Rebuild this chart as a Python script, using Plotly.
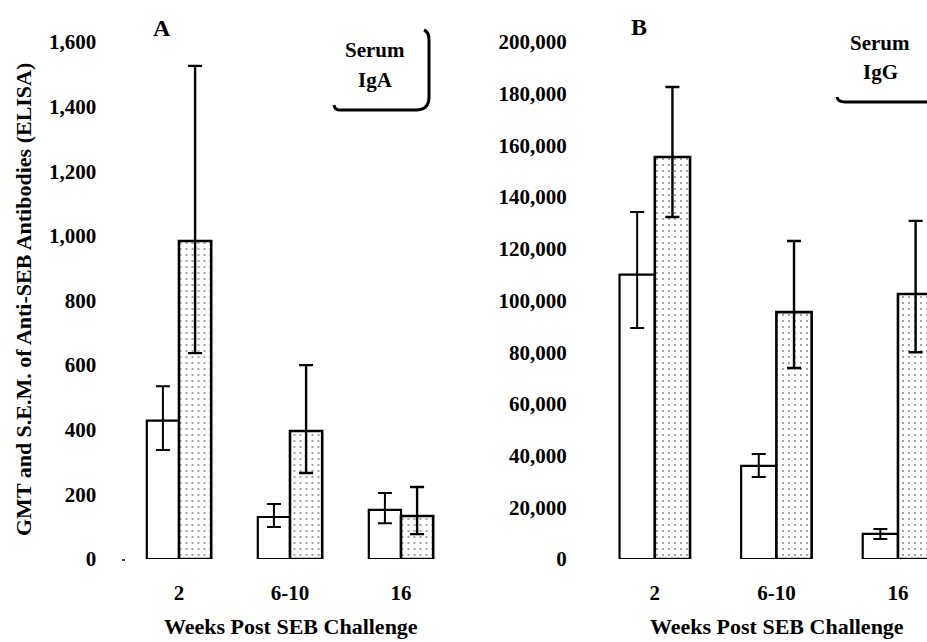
import plotly.graph_objects as go

W, H = 927, 642

weeks = ["2", "6-10", "16"]

# Panel A: Serum IgA
iga_open = [428, 130, 152]
iga_open_hi = [535, 170, 204]
iga_open_lo = [337, 99, 111]
iga_stip = [984, 396, 133]
iga_stip_hi = [1526, 600, 223]
iga_stip_lo = [637, 266, 77]

# Panel B: Serum IgG
igg_open = [110000, 36000, 9700]
igg_open_hi = [134200, 40600, 11600]
igg_open_lo = [89400, 31700, 7700]
igg_stip = [155500, 95500, 102500]
igg_stip_hi = [182600, 123000, 130800]
igg_stip_lo = [132300, 73900, 80000]

FONT = "Liberation Serif"


def px(x):
    return x / W


def py(y):
    return 1 - y / H


def err(vals, hi, lo, thick):
    return dict(type="data", symmetric=False,
                array=[h - v for h, v in zip(hi, vals)],
                arrayminus=[v - l for v, l in zip(vals, lo)],
                color="black", thickness=thick, width=7)


fig = go.Figure()


def add_pair(xa, ya, openv, ohi, olo, stv, shi, slo):
    fig.add_trace(go.Bar(
        x=weeks, y=openv, xaxis=xa, yaxis=ya,
        marker=dict(color="white", line=dict(color="black", width=2.2)),
        error_y=err(openv, ohi, olo, 2), showlegend=False))
    fig.add_trace(go.Bar(
        x=weeks, y=stv, xaxis=xa, yaxis=ya,
        marker=dict(color="white", line=dict(color="black", width=2.6),
                    pattern=dict(shape=".", fgcolor="black", bgcolor="white",
                                 size=6, solidity=0.08)),
        error_y=err(stv, shi, slo, 2.4), showlegend=False))


add_pair("x", "y", iga_open, iga_open_hi, iga_open_lo, iga_stip, iga_stip_hi, iga_stip_lo)
add_pair("x2", "y2", igg_open, igg_open_hi, igg_open_lo, igg_stip, igg_stip_hi, igg_stip_lo)

tickfont = dict(family=FONT, size=21, color="black", weight="bold")
ydom = [py(559), py(42)]

common_x = dict(showline=False, showgrid=False, zeroline=False, ticks="outside",
                ticklen=15, tickcolor="rgba(0,0,0,0)", tickfont=tickfont,
                type="category", automargin=False)
common_y = dict(showline=False, showgrid=False, zeroline=False, ticks="outside",
                ticklen=22, tickcolor="rgba(0,0,0,0)", tickfont=tickfont,
                tickformat=",d", domain=ydom, automargin=False)

fig.update_layout(
    width=W, height=H,
    margin=dict(l=0, r=0, t=0, b=0, autoexpand=False),
    paper_bgcolor="white", plot_bgcolor="white",
    barmode="group", bargap=0.42, bargroupgap=0,
    xaxis=dict(domain=[px(123.5), px(456.5)], range=[-0.5, 2.5], anchor="y", **common_x),
    yaxis=dict(range=[0, 1600], dtick=200, anchor="x", **common_y),
    xaxis2=dict(domain=[px(594), 1.0], range=[-0.5, 2 + (927 - 898) / 121.5], anchor="y2", **common_x),
    yaxis2=dict(range=[0, 200000], dtick=20000, anchor="x2", **common_y),
)

ytitlefont = dict(family=FONT, size=22, color="black", weight="bold")
xtitlefont = dict(family=FONT, size=22, color="black", weight="bold")
boxfont = dict(family=FONT, size=21, color="black", weight="bold")
letterfont = dict(family=FONT, size=24, color="black", weight="bold")
ann = [
    dict(text="GMT and S.E.M. of Anti-SEB Antibodies (ELISA)", x=px(23), y=py(300),
         textangle=-90, font=ytitlefont),
    dict(text="Weeks Post SEB Challenge", x=px(291), y=py(641), font=xtitlefont,
         yanchor="bottom"),
    dict(text="Weeks Post SEB Challenge", x=px(777), y=py(641), font=xtitlefont,
         yanchor="bottom"),
    dict(text="A", x=px(162), y=py(28), font=letterfont),
    dict(text="B", x=px(639), y=py(27), font=letterfont),
    dict(text="Serum", x=px(375), y=py(50), font=boxfont),
    dict(text="IgA", x=px(375), y=py(80), font=boxfont),
    dict(text="Serum", x=px(880), y=py(43), font=boxfont),
    dict(text="IgG", x=px(880), y=py(72), font=boxfont),
]
for a in ann:
    a.setdefault("yanchor", "middle")
    a.update(xref="paper", yref="paper", showarrow=False, xanchor="center")
fig.update_layout(annotations=ann)


def P(x, y):
    return f"{px(x)},{py(y)}"


shapes = [
    dict(type="path", xref="paper", yref="paper",
         path=(f"M {P(424, 30)} Q {P(429, 32)} {P(429, 40)} L {P(429, 97)} "
               f"Q {P(429, 110)} {P(416, 110)} L {P(339, 110)} Q {P(335, 110)} {P(334, 105)}"),
         line=dict(color="black", width=3)),
    dict(type="path", xref="paper", yref="paper",
         path=f"M {P(837, 97)} Q {P(838, 102)} {P(845, 102)} L {P(927, 102)}",
         line=dict(color="black", width=3)),
    dict(type="line", xref="paper", yref="paper",
         x0=px(122), x1=px(125), y0=py(560), y1=py(560),
         line=dict(color="black", width=1.5)),
]
fig.update_layout(shapes=shapes)

fig.write_html("out.html")
